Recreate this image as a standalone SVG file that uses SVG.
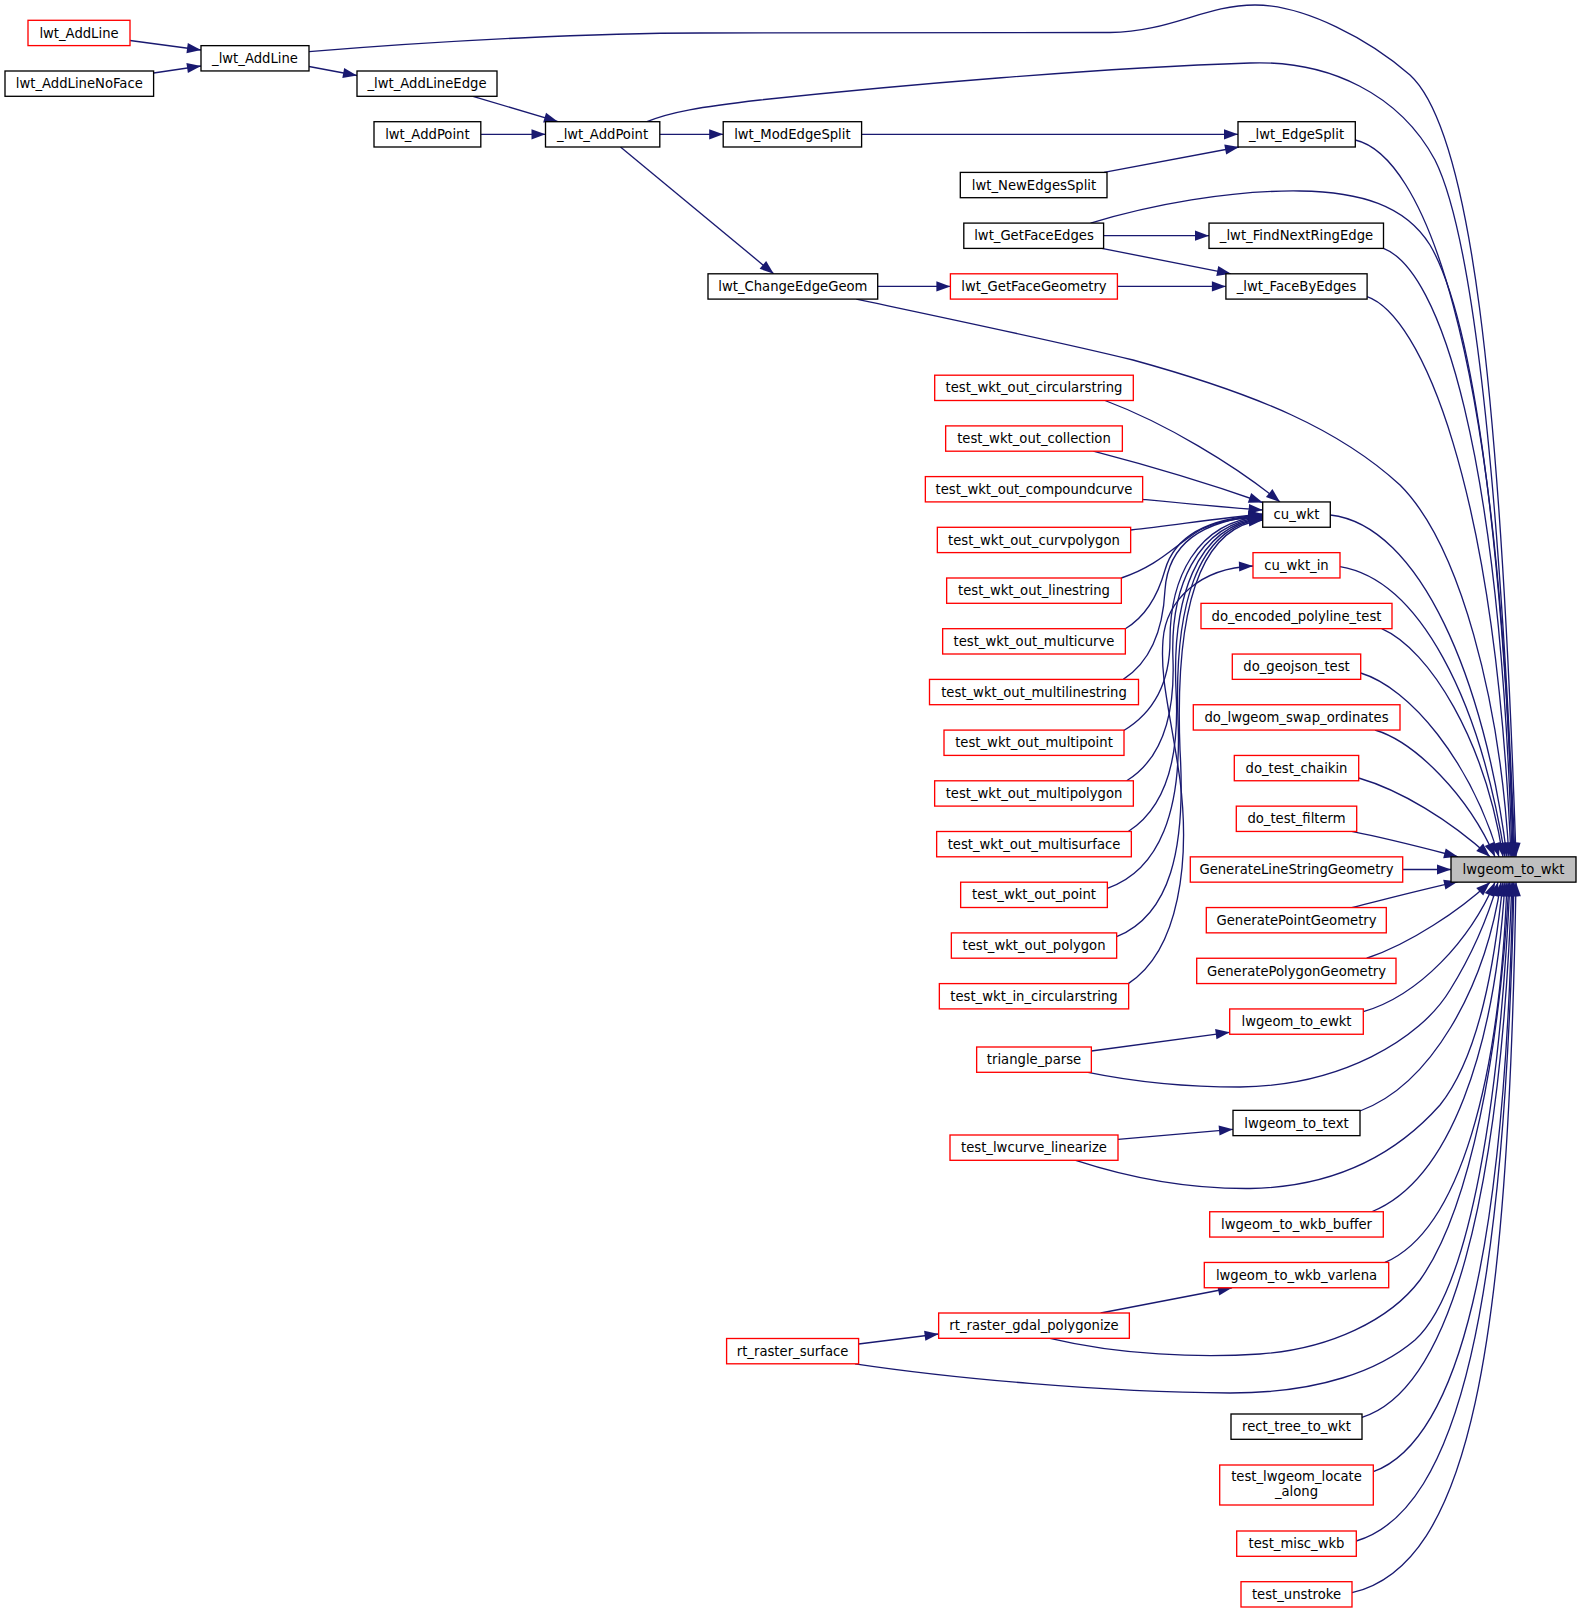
<svg xmlns="http://www.w3.org/2000/svg" width="1581" height="1613" viewBox="0 0 1581 1613">
<style>
.n rect{fill:#ffffff;stroke:#000000;stroke-width:1.33}
.n.r rect{stroke:#ff0000}
.n.m rect{fill:#bfbfbf}
.n text{font-family:"DejaVu Sans","Liberation Sans",sans-serif;font-size:13.2px;text-anchor:middle;fill:#000000}
#edges path{fill:none;stroke:#191970;stroke-width:1.33;marker-end:url(#a)}
</style>
<defs>
<marker id="a" markerUnits="userSpaceOnUse" markerWidth="15" markerHeight="11" refX="14" refY="5.1" orient="auto" overflow="visible">
<path d="M0,0 L14,5.1 L0,10.2 Z" fill="#191970"/>
</marker>
</defs>
<rect x="0" y="0" width="1581" height="1613" fill="#ffffff"/>

<g id="edges">
<path d="M130,40.5 L201,50"/>
<path d="M153.6,73 L201,66"/>
<path d="M309,66.5 L357,75.5"/>
<path d="M473,96.3 L558,121.7"/>
<path d="M480.8,134.3 L545.5,134.3"/>
<path d="M659.8,134.3 L723.2,134.3"/>
<path d="M620.5,147 L773.7,273.8"/>
<path d="M861.6,134.3 L1238,134.3"/>
<path d="M1104,172.4 L1239,147"/>
<path d="M1103.6,235.7 L1209,235.7"/>
<path d="M1101.8,248.4 L1231,273.8"/>
<path d="M877.7,286.4 L950.4,286.4"/>
<path d="M1117.4,286.4 L1225.9,286.4"/>

<path d="M309,51.7 C450,40 600,33 700,33 C850,33 1000,33 1110,32.5 C1170,32 1205,5 1255,5 C1305,5 1370,40 1410,75 C1470,130 1500,380 1516,856.85"/>
<path d="M647,121.7 C670,112 700,107 760,100 C900,85 1100,68 1250,63 C1330,60 1400,95 1435,160 C1475,240 1500,500 1515,856.85"/>
<path d="M1090.6,223.1 C1150,205 1230,190 1300,191 C1360,192 1405,205 1430,245 C1480,330 1505,600 1514,856.85"/>
<path d="M1355.3,140 C1420,155 1500,330 1513,856.85"/>
<path d="M1383.5,248.4 C1440,270 1500,450 1512,856.85"/>
<path d="M1367.1,296.7 C1420,315 1495,480 1511,856.85"/>
<path d="M856.3,299.1 C950,319 1060,342 1133,360 C1260,395 1340,430 1400,485 C1460,545 1500,700 1509,856.85"/>
<path d="M1330.3,515 C1420,525 1485,680 1507,856.85"/>
<path d="M1340,566.7 C1420,580 1480,700 1505,856.85"/>
<path d="M1381.7,628.65 C1430,650 1485,740 1503,856.85"/>
<path d="M1360.7,673 C1410,688 1470,760 1499,856.85"/>
<path d="M1375,730 C1415,742 1468,795 1495,856.85"/>
<path d="M1358.7,778 C1400,790 1450,820 1490,856.85"/>
<path d="M1351.7,831.45 C1390,839 1420,847 1458,856.85"/>
<path d="M1402.7,869.5 L1451,869.5"/>
<path d="M1351.7,907.55 C1390,898 1420,890 1458,881.6"/>
<path d="M1366.7,958.25 C1410,944 1460,910 1490,882.15"/>
<path d="M1363.3,1011.7 C1420,995 1470,940 1495,882.15"/>
<path d="M1091.35,1051 L1229.7,1032.3"/>
<path d="M1088,1072.3 C1150,1085 1200,1087 1240,1087 C1340,1086 1420,1040 1450,990 C1475,950 1490,910 1498,882.15"/>
<path d="M1360,1111 C1430,1085 1485,990 1501,882.15"/>
<path d="M1118,1139.3 L1233,1129.3"/>
<path d="M1075.7,1160.3 C1130,1178 1190,1189 1250,1188.5 C1340,1187 1400,1150 1440,1105 C1480,1055 1495,960 1503,882.15"/>
<path d="M1371.7,1211.75 C1450,1180 1495,1050 1505,882.15"/>
<path d="M1385,1262.45 C1460,1230 1500,1080 1507,882.15"/>
<path d="M1100.7,1313 L1232,1287.75"/>
<path d="M1050,1338.3 C1120,1355 1200,1358 1260,1354 C1330,1349 1390,1320 1420,1280 C1470,1210 1500,1050 1509,882.15"/>
<path d="M858.6,1344 L938.65,1334"/>
<path d="M855,1363.8 C950,1378 1100,1392 1230,1393 C1320,1393 1380,1370 1415,1340 C1470,1290 1500,1100 1510,882.15"/>
<path d="M1362,1417.3 C1450,1390 1500,1200 1512,882.15"/>
<path d="M1373.3,1471.7 C1460,1440 1505,1250 1513,882.15"/>
<path d="M1356.3,1541 C1460,1510 1505,1300 1514,882.15"/>
<path d="M1352,1592.7 C1470,1565 1508,1350 1516,882.15"/>

<path d="M1105,400.5 C1165,423 1235,465 1280,501.95"/>
<path d="M1093.3,451.2 C1150,466 1210,484 1262.7,502.5"/>
<path d="M1142.65,499.3 C1180,503 1220,507 1262.7,510"/>
<path d="M1130.65,530 C1175,525 1220,518 1262.7,514"/>
<path d="M1121.35,578 C1160,565 1175,545 1200,530 C1220,520 1240,518 1262.7,517"/>
<path d="M1125.35,628.7 C1145,617 1158,595 1165,570 C1175,535 1210,518 1262.7,515"/>
<path d="M1123.3,679.4 C1150,662 1163,630 1165,590 C1168,545 1200,520 1262.7,515.5"/>
<path d="M1123,731 C1155,712 1170,680 1170,640 C1170,580 1195,522 1262.7,516"/>
<path d="M1126.7,780.8 C1160,760 1175,720 1173,660 C1170,590 1195,524 1262.7,517"/>
<path d="M1128.3,831.5 C1165,808 1180,760 1176,690 C1172,600 1195,525 1262.7,518"/>
<path d="M1107.35,888.3 C1160,870 1182,810 1178,720 C1174,610 1195,526 1262.7,519"/>
<path d="M1116.65,936.7 C1170,915 1186,850 1180,750 C1175,620 1195,527 1262.7,520"/>
<path d="M1128.3,983.6 C1180,950 1190,860 1180,780 C1170,710 1160,680 1163,640 C1166,600 1200,568 1253,566"/>
</g>

<g id="node_lwt_AddLine" class="n r"><rect x="28" y="20.3" width="102" height="25.3"/><text x="79" y="37.55">lwt_AddLine</text></g>
<g id="node_lwt_AddLineNoFace" class="n"><rect x="5" y="71" width="148.6" height="25.3"/><text x="79.3" y="88.25">lwt_AddLineNoFace</text></g>
<g id="node__lwt_AddLine" class="n"><rect x="201" y="45.65" width="108" height="25.3"/><text x="255" y="62.9">_lwt_AddLine</text></g>
<g id="node__lwt_AddLineEdge" class="n"><rect x="357" y="71" width="140" height="25.3"/><text x="427" y="88.25">_lwt_AddLineEdge</text></g>
<g id="node_lwt_AddPoint" class="n"><rect x="374" y="121.7" width="106.8" height="25.3"/><text x="427.4" y="138.95">lwt_AddPoint</text></g>
<g id="node__lwt_AddPoint" class="n"><rect x="545.5" y="121.7" width="114.3" height="25.3"/><text x="602.6" y="138.95">_lwt_AddPoint</text></g>
<g id="node_lwt_ModEdgeSplit" class="n"><rect x="723.2" y="121.7" width="138.4" height="25.3"/><text x="792.4" y="138.95">lwt_ModEdgeSplit</text></g>
<g id="node_lwt_ChangeEdgeGeom" class="n"><rect x="708" y="273.8" width="169.7" height="25.3"/><text x="792.85" y="291.05">lwt_ChangeEdgeGeom</text></g>
<g id="node_rt_raster_surface" class="n r"><rect x="726.6" y="1338.5" width="132" height="25.3"/><text x="792.6" y="1355.75">rt_raster_surface</text></g>

<g id="node_lwt_NewEdgesSplit" class="n"><rect x="960.3" y="172.4" width="146.7" height="25.3"/><text x="1034" y="189.65">lwt_NewEdgesSplit</text></g>
<g id="node_lwt_GetFaceEdges" class="n"><rect x="963.8" y="223.1" width="139.8" height="25.3"/><text x="1034" y="240.35">lwt_GetFaceEdges</text></g>
<g id="node_lwt_GetFaceGeometry" class="n r"><rect x="950.4" y="273.8" width="167" height="25.3"/><text x="1034" y="291.05">lwt_GetFaceGeometry</text></g>
<g id="node_test_wkt_out_circularstring" class="n r"><rect x="934.7" y="375.2" width="198.6" height="25.3"/><text x="1034" y="392.45">test_wkt_out_circularstring</text></g>
<g id="node_test_wkt_out_collection" class="n r"><rect x="945.65" y="425.9" width="176.7" height="25.3"/><text x="1034" y="443.15">test_wkt_out_collection</text></g>
<g id="node_test_wkt_out_compoundcurve" class="n r"><rect x="925.35" y="476.6" width="217.3" height="25.3"/><text x="1034" y="493.85">test_wkt_out_compoundcurve</text></g>
<g id="node_test_wkt_out_curvpolygon" class="n r"><rect x="937.35" y="527.3" width="193.3" height="25.3"/><text x="1034" y="544.55">test_wkt_out_curvpolygon</text></g>
<g id="node_test_wkt_out_linestring" class="n r"><rect x="946.65" y="578" width="174.7" height="25.3"/><text x="1034" y="595.25">test_wkt_out_linestring</text></g>
<g id="node_test_wkt_out_multicurve" class="n r"><rect x="942.65" y="628.7" width="182.7" height="25.3"/><text x="1034" y="645.95">test_wkt_out_multicurve</text></g>
<g id="node_test_wkt_out_multilinestring" class="n r"><rect x="929.5" y="679.4" width="209" height="25.3"/><text x="1034" y="696.65">test_wkt_out_multilinestring</text></g>
<g id="node_test_wkt_out_multipoint" class="n r"><rect x="944" y="730.1" width="180" height="25.3"/><text x="1034" y="747.35">test_wkt_out_multipoint</text></g>
<g id="node_test_wkt_out_multipolygon" class="n r"><rect x="934.65" y="780.8" width="198.7" height="25.3"/><text x="1034" y="798.05">test_wkt_out_multipolygon</text></g>
<g id="node_test_wkt_out_multisurface" class="n r"><rect x="936.65" y="831.5" width="194.7" height="25.3"/><text x="1034" y="848.75">test_wkt_out_multisurface</text></g>
<g id="node_test_wkt_out_point" class="n r"><rect x="960.65" y="882.2" width="146.7" height="25.3"/><text x="1034" y="899.45">test_wkt_out_point</text></g>
<g id="node_test_wkt_out_polygon" class="n r"><rect x="951.35" y="932.9" width="165.3" height="25.3"/><text x="1034" y="950.15">test_wkt_out_polygon</text></g>
<g id="node_test_wkt_in_circularstring" class="n r"><rect x="939.35" y="983.6" width="189.3" height="25.3"/><text x="1034" y="1000.85">test_wkt_in_circularstring</text></g>
<g id="node_triangle_parse" class="n r"><rect x="976.65" y="1047" width="114.7" height="25.3"/><text x="1034" y="1064.25">triangle_parse</text></g>
<g id="node_test_lwcurve_linearize" class="n r"><rect x="950" y="1135" width="168" height="25.3"/><text x="1034" y="1152.25">test_lwcurve_linearize</text></g>
<g id="node_rt_raster_gdal_polygonize" class="n r"><rect x="938.65" y="1313" width="190.7" height="25.3"/><text x="1034" y="1330.25">rt_raster_gdal_polygonize</text></g>

<g id="node__lwt_EdgeSplit" class="n"><rect x="1238" y="121.7" width="117.3" height="25.3"/><text x="1296.5" y="138.95">_lwt_EdgeSplit</text></g>
<g id="node__lwt_FindNextRingEdge" class="n"><rect x="1209" y="223.1" width="174.5" height="25.3"/><text x="1296.5" y="240.35">_lwt_FindNextRingEdge</text></g>
<g id="node__lwt_FaceByEdges" class="n"><rect x="1225.9" y="273.8" width="141.2" height="25.3"/><text x="1296.5" y="291.05">_lwt_FaceByEdges</text></g>
<g id="node_cu_wkt" class="n"><rect x="1262.7" y="501.95" width="67.6" height="25.3"/><text x="1296.5" y="519.2">cu_wkt</text></g>
<g id="node_cu_wkt_in" class="n r"><rect x="1253" y="552.65" width="87" height="25.3"/><text x="1296.5" y="569.9">cu_wkt_in</text></g>
<g id="node_do_encoded_polyline_test" class="n r"><rect x="1201" y="603.35" width="191" height="25.3"/><text x="1296.5" y="620.6">do_encoded_polyline_test</text></g>
<g id="node_do_geojson_test" class="n r"><rect x="1232.3" y="654.05" width="128.4" height="25.3"/><text x="1296.5" y="671.3">do_geojson_test</text></g>
<g id="node_do_lwgeom_swap_ordinates" class="n r"><rect x="1193.3" y="704.75" width="206.7" height="25.3"/><text x="1296.5" y="722">do_lwgeom_swap_ordinates</text></g>
<g id="node_do_test_chaikin" class="n r"><rect x="1234.3" y="755.45" width="124.4" height="25.3"/><text x="1296.5" y="772.7">do_test_chaikin</text></g>
<g id="node_do_test_filterm" class="n r"><rect x="1236.3" y="806.15" width="120.4" height="25.3"/><text x="1296.5" y="823.4">do_test_filterm</text></g>
<g id="node_GenerateLineStringGeometry" class="n r"><rect x="1190.3" y="856.85" width="212.4" height="25.3"/><text x="1296.5" y="874.1">GenerateLineStringGeometry</text></g>
<g id="node_GeneratePointGeometry" class="n r"><rect x="1206.3" y="907.55" width="180" height="25.3"/><text x="1296.5" y="924.8">GeneratePointGeometry</text></g>
<g id="node_GeneratePolygonGeometry" class="n r"><rect x="1196.7" y="958.25" width="199.3" height="25.3"/><text x="1296.5" y="975.5">GeneratePolygonGeometry</text></g>
<g id="node_lwgeom_to_ewkt" class="n r"><rect x="1229.7" y="1008.95" width="133.6" height="25.3"/><text x="1296.5" y="1026.2">lwgeom_to_ewkt</text></g>
<g id="node_lwgeom_to_text" class="n"><rect x="1233" y="1110.35" width="127" height="25.3"/><text x="1296.5" y="1127.6">lwgeom_to_text</text></g>
<g id="node_lwgeom_to_wkb_buffer" class="n r"><rect x="1209.7" y="1211.75" width="173.6" height="25.3"/><text x="1296.5" y="1229">lwgeom_to_wkb_buffer</text></g>
<g id="node_lwgeom_to_wkb_varlena" class="n r"><rect x="1204.3" y="1262.45" width="184.4" height="25.3"/><text x="1296.5" y="1279.7">lwgeom_to_wkb_varlena</text></g>
<g id="node_rect_tree_to_wkt" class="n"><rect x="1231" y="1414" width="131" height="25.3"/><text x="1296.5" y="1431.25">rect_tree_to_wkt</text></g>
<g id="node_test_lwgeom_locate_along" class="n r"><rect x="1219.7" y="1465" width="153.6" height="40"/><text x="1296.5" y="1481.3">test_lwgeom_locate</text><text x="1296.5" y="1496.3">_along</text></g>
<g id="node_test_misc_wkb" class="n r"><rect x="1236.7" y="1531" width="119.6" height="25.3"/><text x="1296.5" y="1548.25">test_misc_wkb</text></g>
<g id="node_test_unstroke" class="n r"><rect x="1241" y="1581.7" width="111" height="25.3"/><text x="1296.5" y="1598.95">test_unstroke</text></g>

<g id="node_lwgeom_to_wkt" class="n m"><rect x="1451" y="856.85" width="125" height="25.3"/><text x="1513.5" y="874.1">lwgeom_to_wkt</text></g>
</svg>
